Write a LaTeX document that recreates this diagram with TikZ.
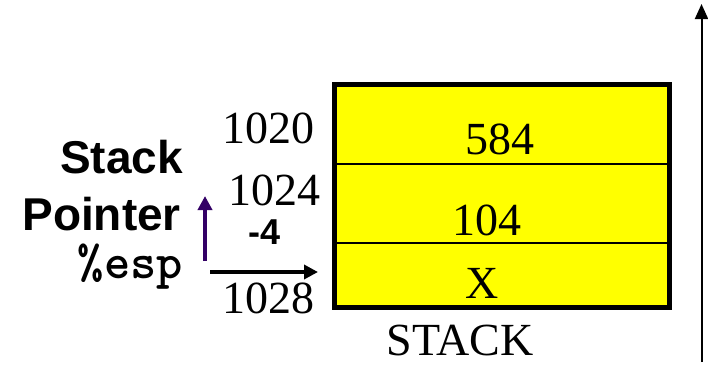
\documentclass[tikz,border=0pt]{standalone}
\usepackage{fontspec}
\setmainfont{Liberation Serif}
\setsansfont{Liberation Sans}
\newfontfamily\espfont{lmmonolt10-bold.otf}
\usetikzlibrary{arrows.meta, positioning}
\definecolor{cellyellow}{RGB}{255,255,0}
\definecolor{sppurple}{RGB}{51,0,102}

\begin{document}
\begin{tikzpicture}[
    x=1pt, y=-1pt,
    addr/.style={font=\fontsize{46}{46}\selectfont, inner sep=0pt},
    val/.style={font=\fontsize{46}{46}\selectfont, inner sep=0pt},
    lbl/.style={font=\fontsize{46}{46}\selectfont\sffamily\bfseries, inner sep=0pt, anchor=east},
    ptr/.style={-{Triangle[length=14pt, width=14pt]}, line width=3.5pt},
    cellline/.style={line width=1.5pt}
]
\useasboundingbox (0,0) rectangle (708,375);
% stack cells
\fill[cellyellow] (334.5,84.5) rectangle (669.5,307.5);
\draw[cellline] (334.5,164) -- (669.5,164);
\draw[cellline] (334.5,243) -- (669.5,243);
\draw[line width=5pt] (334.5,84.5) rectangle (669.5,307.5);
\node[val] (v584) at (500,139) {584};
\node[val] (v104) at (487,220) {104};
\node[val] (vx) at (482,283) {X};
\node[val] (stack) at (460,340) {STACK};
% addresses
\node[addr] (a1020) at (268,128) {1020};
\node[addr] (a1024) at (274,190) {1024};
\node[addr] (a1028) at (268,298) {1028};
\node[font=\fontsize{36}{36}\selectfont\sffamily\bfseries, inner sep=0pt] (dec) at (265,232) {-4};
% stack pointer
\node[lbl] (sp1) at (183,157) {Stack};
\node[lbl] (sp2) at (181,214) {Pointer};
\node[lbl, font=\fontsize{50}{50}\selectfont\espfont] (esp) at (183,267) {\%esp};
\coordinate (up0) at (205,261);
\coordinate (up1) at (205,196);
\coordinate (pt0) at (210,272);
\coordinate (pt1) at (318,272);
\draw[ptr, sppurple] (up0) -- (up1);
\draw[ptr] (pt0) -- (pt1);
% address direction
\coordinate (dir0) at (701.5,362);
\coordinate (dir1) at (701.5,4);
\draw[-{Triangle[length=15pt, width=13pt]}, line width=2pt] (dir0) -- (dir1);
\end{tikzpicture}
\end{document}
